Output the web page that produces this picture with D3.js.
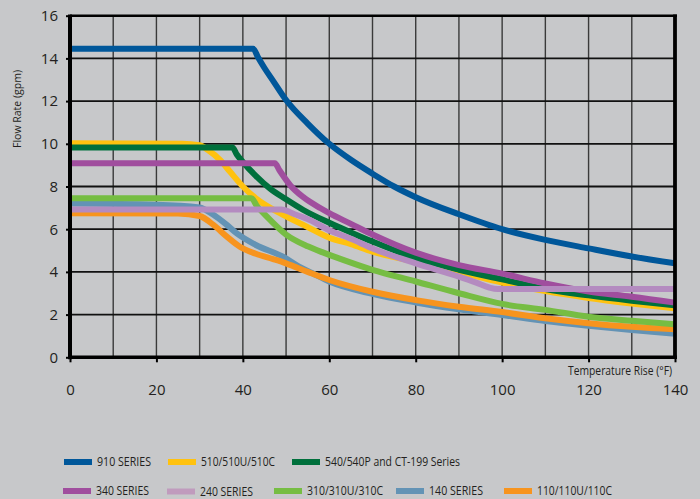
<!DOCTYPE html>
<html>
<head>
<meta charset="utf-8">
<script src="https://cdn.jsdelivr.net/npm/d3@7.9.0/dist/d3.min.js"></script>
<style>
  html, body { margin: 0; padding: 0; background: #c7c8ca; }
  svg { display: block; }
  text { font-family: "Open Sans", sans-serif; fill: #231f20; }
</style>
</head>
<body>
<div id="chart"></div>
<script>
// temperature rise (°F) vs flow rate (gpm)
const s910 = [[0,14.45],[42.4,14.45],[43.5,14.05],[45,13.55],[47,12.95],[50,12.05],[55,10.95],[60,10.0],[65,9.25],[70,8.6],[75,8.0],[80,7.5],[90,6.7],[100,6.0],[110,5.5],[120,5.1],[130,4.72],[140,4.4]];
const s510 = [[0,10.02],[26,10.0],[30,9.93],[32,9.7],[34.7,9.25],[37,8.7],[40,8.0],[43,7.45],[48.6,6.75],[55,6.1],[60,5.6],[65,5.3],[70,4.95],[80,4.48],[90,4.0],[100,3.5],[110,3.1],[120,2.78],[130,2.52],[140,2.29]];
const s540 = [[0,9.83],[37.6,9.83],[38.6,9.5],[40,9.15],[43,8.5],[46.3,7.9],[50,7.4],[54,6.9],[60,6.3],[65,5.85],[70,5.42],[80,4.65],[90,4.1],[100,3.65],[110,3.2],[120,2.9],[130,2.65],[140,2.43]];
const s340 = [[0,9.09],[47.4,9.09],[48.5,8.75],[51,8.05],[54,7.5],[58,6.98],[60,6.75],[65,6.25],[70,5.75],[80,4.9],[90,4.32],[100,3.92],[110,3.46],[120,3.08],[130,2.84],[140,2.56]];
const s240 = [[0,6.92],[48.9,6.92],[52,6.7],[55.5,6.43],[60,5.95],[65,5.55],[70,5.1],[80,4.4],[90,3.78],[94,3.5],[97,3.27],[99,3.2],[140,3.2]];
const s310 = [[0,7.45],[42,7.45],[43.2,7.1],[45.5,6.6],[50,5.75],[55,5.2],[58,4.95],[60,4.8],[70,4.1],[80,3.55],[90,3.0],[100,2.5],[110,2.22],[120,1.9],[130,1.71],[140,1.55]];
const s140 = [[0,7.2],[20,7.15],[30,7.02],[33,6.7],[36,6.25],[38.6,5.8],[43,5.26],[49.4,4.7],[53,4.25],[56,3.95],[60,3.55],[70,2.97],[80,2.57],[90,2.25],[100,1.98],[110,1.7],[120,1.48],[130,1.28],[140,1.1]];
const s110 = [[0,6.75],[25,6.74],[30,6.62],[33.2,6.2],[36.3,5.65],[39.3,5.18],[43,4.85],[47,4.6],[50,4.4],[55,4.0],[60,3.62],[70,3.07],[80,2.68],[90,2.37],[100,2.12],[110,1.83],[120,1.6],[130,1.43],[140,1.31]];

const seriesNames = ["910 SERIES", "510/510U/510C", "540/540P and CT-199 Series", "340 SERIES", "240 SERIES", "310/310U/310C", "140 SERIES", "110/110U/110C"];
const seriesData = [s910, s510, s540, s340, s240, s310, s140, s110];
const seriesColors = ["#00579a", "#ffc20f", "#00703c", "#a04e9e", "#b48bc0", "#76bd43", "#6393b5", "#f7941e"];
const legendColors = ["#00579a", "#ffc20f", "#00703c", "#a04e9e", "#c09bbd", "#76bd43", "#6393b5", "#f7941e"];
// drawing order, bottom to top
const drawOrder = [6, 7, 1, 5, 2, 3, 4, 0];

const xTicks = [0, 20, 40, 60, 80, 100, 120, 140];
const yTicks = [0, 2, 4, 6, 8, 10, 12, 14, 16];
const xGrid = [10, 20, 30, 40, 50, 60, 70, 80, 90, 100, 110, 120, 130];
const yGrid = [2, 4, 6, 8, 10, 12, 14];

const width = 700;
const height = 499;

const svg = d3.select('#chart')
  .append('svg')
  .attr('width', width)
  .attr('height', height);

svg.append('rect').attr('width', width).attr('height', height).attr('fill', '#c7c8ca');

const x = d3.scaleLinear().domain([0, 140]).range([70, 675]);
const y = d3.scaleLinear().domain([0, 16]).range([357.3, 15.7]);

// gridlines
svg.append('g')
  .selectAll('line')
  .data(xGrid)
  .join('line')
  .attr('x1', d => x(d)).attr('x2', d => x(d))
  .attr('y1', y(16)).attr('y2', y(0))
  .attr('stroke', '#3a3a3a')
  .attr('stroke-width', 1.4);

svg.append('g')
  .selectAll('line')
  .data(yGrid)
  .join('line')
  .attr('x1', x(0)).attr('x2', x(140))
  .attr('y1', d => y(d)).attr('y2', d => y(d))
  .attr('stroke', '#111')
  .attr('stroke-width', 1.8);

// curves
const line = d3.line()
  .x(d => x(d[0]))
  .y(d => y(d[1]))
  .curve(d3.curveMonotoneX);

svg.append('g')
  .selectAll('path')
  .data(drawOrder)
  .join('path')
  .attr('d', i => line(seriesData[i]))
  .attr('fill', 'none')
  .attr('stroke', i => seriesColors[i])
  .attr('stroke-width', 6);

// frame
svg.append('line')
  .attr('x1', x(0)).attr('x2', x(140) + 2)
  .attr('y1', y(16)).attr('y2', y(16))
  .attr('stroke', '#000').attr('stroke-width', 2.6);

svg.append('line')
  .attr('x1', x(140)).attr('x2', x(140))
  .attr('y1', y(16) - 1.3).attr('y2', y(0))
  .attr('stroke', '#000').attr('stroke-width', 3.8);

// axes
const yAxis = d3.axisLeft(y).tickValues(yTicks).tickSize(4).tickPadding(8).tickSizeOuter(0);
const xAxis = d3.axisBottom(x).tickValues(xTicks).tickSize(5).tickPadding(22).tickSizeOuter(0);

const gy = svg.append('g')
  .attr('transform', `translate(${x(0)},0)`)
  .call(yAxis);
gy.select('.domain').attr('stroke', '#000').attr('stroke-width', 4).attr('d', `M0,${y(16) - 1.3}V${y(0) + 2}`);
gy.selectAll('.tick line').attr('stroke', '#000').attr('stroke-width', 2);
gy.selectAll('.tick text')
  .style('font-family', '"Open Sans", sans-serif')
  .style('font-size', '15px')
  .attr('fill', '#231f20');

const gx = svg.append('g')
  .attr('transform', `translate(0,${y(0)})`)
  .call(xAxis);
gx.select('.domain').attr('stroke', '#000').attr('stroke-width', 3.6).attr('d', `M${x(0) - 2},0H${x(140) + 2}`);
gx.selectAll('.tick line').attr('stroke', '#000').attr('stroke-width', 2);
gx.selectAll('.tick text')
  .style('font-family', '"Open Sans", sans-serif')
  .style('font-size', '15px')
  .attr('fill', '#231f20');

// axis titles (reference font is condensed, so squeeze to its widths)
svg.append('text')
  .attr('text-anchor', 'middle')
  .attr('transform', `translate(21,109) rotate(-90)`)
  .attr('textLength', 78)
  .attr('lengthAdjust', 'spacingAndGlyphs')
  .style('font-size', '11px')
  .text('Flow Rate (gpm)');

svg.append('text')
  .attr('x', 568)
  .attr('y', 375)
  .attr('textLength', 104)
  .attr('lengthAdjust', 'spacingAndGlyphs')
  .style('font-size', '12.5px')
  .text('Temperature Rise (°F)');

// legend
const legendPos = [[64, 462], [168, 462], [292, 462], [63, 491], [167, 491.5], [274, 491], [396, 491], [504, 491]];
const legendTextW = [54, 74, 135, 53, 53, 76, 54, 75];

const legend = svg.append('g')
  .selectAll('g')
  .data(seriesNames)
  .join('g')
  .attr('transform', (d, i) => `translate(${legendPos[i][0]},${legendPos[i][1]})`);

legend.append('rect')
  .attr('x', 0).attr('y', -3)
  .attr('width', 28).attr('height', 6)
  .attr('fill', (d, i) => legendColors[i]);

legend.append('text')
  .attr('x', 33)
  .attr('y', 4)
  .attr('textLength', (d, i) => legendTextW[i])
  .attr('lengthAdjust', 'spacingAndGlyphs')
  .style('font-size', '12px')
  .text(d => d);
</script>
</body>
</html>
